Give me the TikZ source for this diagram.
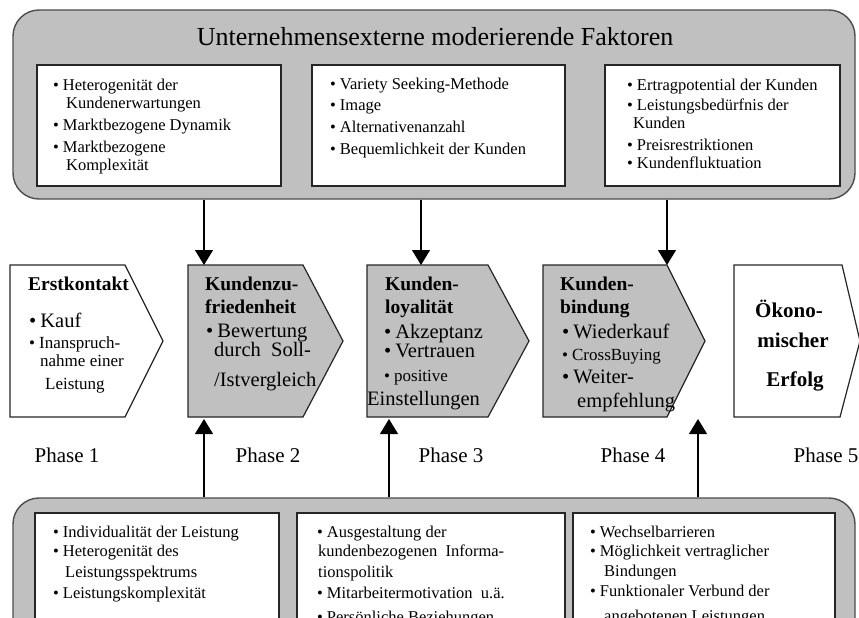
\documentclass[tikz,border=0pt]{standalone}
\usepackage{fontspec}
\setmainfont{Liberation Serif}
\usetikzlibrary{arrows.meta}
\definecolor{boxgray}{HTML}{C0C0C0}
\definecolor{rahmen}{HTML}{4D4D4D}
\newcommand{\pkt}{\textbullet\hspace{4pt}}

\begin{document}
\begin{tikzpicture}[x=1pt,y=-1pt,
    outer/.style={draw=rahmen,fill=boxgray,line width=1.4pt,rounded corners=26pt,inner sep=0pt},
    inner/.style={draw=black!85,fill=white,line width=1.3pt,inner sep=0pt},
    chev/.style={draw=black!85,line width=1.2pt},
    txt/.style={anchor=base west,inner sep=0pt,font=\fontsize{16.5}{18}\selectfont},
    ctitle/.style={anchor=base west,inner sep=0pt,font=\fontsize{19.5}{22}\selectfont\bfseries},
    cbig/.style={anchor=base west,inner sep=0pt,font=\fontsize{20.5}{22}\selectfont},
    csmall/.style={anchor=base west,inner sep=0pt,font=\fontsize{17}{19}\selectfont},
    phase/.style={anchor=base,inner sep=0pt,font=\fontsize{21}{24}\selectfont},
    arr/.style={line width=1.1pt,-{Triangle[width=18pt,length=15pt]}}]
  \useasboundingbox (0,0) rectangle (859,618);
  \clip (0,0) rectangle (859,618);

  % externe Faktoren
  \node[outer,minimum width=842pt,minimum height=189pt] (extern) at (434,104.5) {};
  \node[anchor=base,font=\fontsize{26}{30}\selectfont] (titel) at (435,46)
    {Unternehmensexterne moderierende Faktoren};
  \node[inner,minimum width=244pt,minimum height=121pt] (ex1) at (159,125.5) {};
  \node[inner,minimum width=253pt,minimum height=121pt] (ex2) at (438.5,125.5) {};
  \node[inner,minimum width=235pt,minimum height=121pt] (ex3) at (722.5,125.5) {};
  \foreach \x/\y/\t [count=\i] in {53/90/{\pkt Heterogenität der}, 66/108/Kundenerwartungen,
      53/130/{\pkt Marktbezogene Dynamik}, 53/152/{\pkt Marktbezogene}, 66/170/Komplexität}
    \node[txt] (exa\i) at (\x,\y) {\t};
  \foreach \x/\y/\t [count=\i] in {330/89/{\pkt Variety Seeking-Methode}, 330/110/{\pkt Image},
      330/132/{\pkt Alternativenanzahl}, 330/154/{\pkt Bequemlichkeit der Kunden}}
    \node[txt] (exb\i) at (\x,\y) {\t};
  \foreach \x/\y/\t [count=\i] in {627/90/{\pkt Ertragpotential der Kunden}, 627/110/{\pkt Leistungsbedürfnis der},
      633/128/Kunden, 627/150/{\pkt Preisrestriktionen}, 627/168/{\pkt Kundenfluktuation}}
    \node[txt] (exc\i) at (\x,\y) {\t};

  % Phasen
  \draw[chev,fill=white] (10,265) -- (125,265) -- (163,341) -- (125,417) -- (10,417) -- cycle;
  \draw[chev,fill=boxgray] (188,265) -- (303,265) -- (343,341) -- (303,417) -- (188,417) -- cycle;
  \draw[chev,fill=boxgray] (367,265) -- (488,265) -- (529,341) -- (488,417) -- (367,417) -- cycle;
  \draw[chev,fill=boxgray] (543,265) -- (667,265) -- (705,341) -- (667,417) -- (543,417) -- cycle;
  \draw[chev,fill=white] (734,265) -- (842,265) -- (860,341) -- (840,417) -- (734,417) -- cycle;

  \node[ctitle] (erst) at (28,290) {Erstkontakt};
  \node[cbig] (kauf) at (29,327) {\pkt Kauf};
  \node[csmall] (insp1) at (29,348) {\pkt Inanspruch-};
  \node[csmall] (insp2) at (40,366) {nahme einer};
  \node[csmall] (insp3) at (45,389) {Leistung};

  \node[ctitle] (zuf1) at (205,290) {Kundenzu-};
  \node[ctitle] (zuf2) at (205,313) {friedenheit};
  \node[cbig] (bew1) at (206,337) {\pkt Bewertung};
  \node[cbig] (bew2) at (214,356) {durch\ \ Soll-};
  \node[cbig] (bew3) at (214,386) {/Istvergleich};

  \node[ctitle] (loy1) at (385,290) {Kunden-};
  \node[ctitle] (loy2) at (385,313) {loyalität};
  \node[cbig] (akz) at (384,338) {\pkt Akzeptanz};
  \node[cbig] (ver) at (384,357) {\pkt Vertrauen};
  \node[csmall] (pos1) at (384,381) {\pkt positive};
  \node[cbig] (pos2) at (367,405) {Einstellungen};

  \node[ctitle] (bin1) at (560,290) {Kunden-};
  \node[ctitle] (bin2) at (560,313) {bindung};
  \node[cbig] (wie) at (562,338) {\pkt Wiederkauf};
  \node[csmall] (cro) at (562,360) {\pkt CrossBuying};
  \node[cbig] (wei1) at (562,383) {\pkt Weiter-};
  \node[cbig] (wei2) at (577,407) {empfehlung};

  \node[anchor=base,inner sep=0pt,font=\fontsize{21}{24}\selectfont\bfseries] (oek1) at (789,317) {Ökono-};
  \node[anchor=base,inner sep=0pt,font=\fontsize{21}{24}\selectfont\bfseries] (oek2) at (793,347) {mischer};
  \node[anchor=base,inner sep=0pt,font=\fontsize{21}{24}\selectfont\bfseries] (oek3) at (795,386) {Erfolg};

  \node[phase] (ph1) at (67,462) {Phase 1};
  \node[phase] (ph2) at (268,462) {Phase 2};
  \node[phase] (ph3) at (451,462) {Phase 3};
  \node[phase] (ph4) at (633,462) {Phase 4};
  \node[phase] (ph5) at (826,462) {Phase 5};

  % interne Faktoren
  \node[outer,minimum width=842pt,minimum height=222pt] (intern) at (434,609) {};
  \node[inner,minimum width=244pt,minimum height=192pt] (in1) at (157,609) {};
  \node[inner,minimum width=268pt,minimum height=192pt] (in2) at (431,609) {};
  \node[inner,minimum width=262pt,minimum height=192pt] (in3) at (704,609) {};
  \foreach \x/\y/\t [count=\i] in {53/537/{\pkt Individualität der Leistung}, 53/556/{\pkt Heterogenität des},
      65/577/Leistungsspektrums, 53/598/{\pkt Leistungskomplexität}}
    \node[txt] (ina\i) at (\x,\y) {\t};
  \foreach \x/\y/\t [count=\i] in {317/537/{\pkt Ausgestaltung der}, 318/556/{kundenbezogenen\ \ Informa-},
      318/577/tionspolitik, 317/598/{\pkt Mitarbeitermotivation\ \ u.ä.}, 317/622/{\pkt Persönliche Beziehungen}}
    \node[txt] (inb\i) at (\x,\y) {\t};
  \foreach \x/\y/\t [count=\i] in {590/537/{\pkt Wechselbarrieren}, 590/556/{\pkt Möglichkeit vertraglicher},
      604/576/Bindungen, 590/596/{\pkt Funktionaler Verbund der}, 604/621/{angebotenen Leistungen}}
    \node[txt] (inc\i) at (\x,\y) {\t};

  % Pfeile
  \coordinate (z2) at (204,265);
  \coordinate (z3) at (421,265);
  \coordinate (z4) at (667,265);
  \coordinate (u2) at (204,419);
  \coordinate (u3) at (389,419);
  \coordinate (u4) at (698,419);
  \draw[arr] (extern.south -| z2) -- (z2);
  \draw[arr] (extern.south -| z3) -- (z3);
  \draw[arr] (extern.south -| z4) -- (z4);
  \draw[arr] (intern.north -| u2) -- (u2);
  \draw[arr] (intern.north -| u3) -- (u3);
  \draw[arr] (intern.north -| u4) -- (u4);
\end{tikzpicture}
\end{document}
